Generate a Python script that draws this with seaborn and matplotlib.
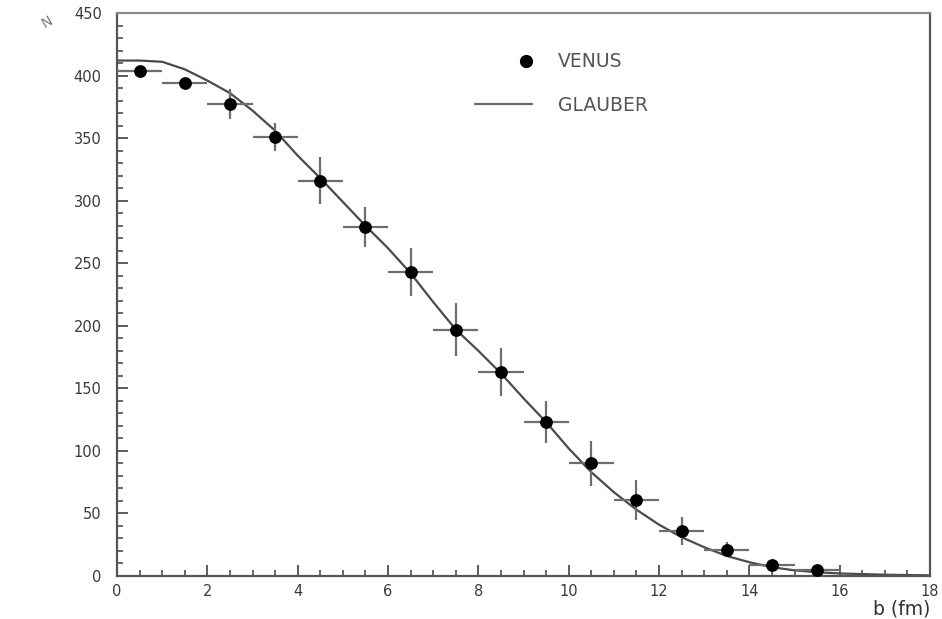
import numpy as np
import pandas as pd
import matplotlib
matplotlib.use("Agg")
import matplotlib.pyplot as plt
from matplotlib.ticker import MultipleLocator
from matplotlib.lines import Line2D
from matplotlib.legend_handler import HandlerBase
import seaborn as sns

# VENUS points: impact parameter b (fm), mean value and errors
venus_b = [0.5, 1.5, 2.5, 3.5, 4.5, 5.5, 6.5, 7.5, 8.5, 9.5, 10.5, 11.5, 12.5, 13.5, 14.5, 15.5]
venus_n = [404, 394, 377, 351, 316, 279, 243, 197, 163, 123, 90, 61, 36, 21, 9, 5]
venus_dn = [3, 4, 12, 11, 19, 16, 19, 21, 19, 17, 18, 16, 11, 6, 3, 2]
venus_db = [0.5] * 16

# Glauber calculation curve
glauber_b = [0, 0.5, 1, 1.5, 2, 2.5, 3, 3.5, 4, 4.5, 5, 5.5, 6, 6.5, 7, 7.5, 8,
             8.5, 9, 9.5, 10, 10.5, 11, 11.5, 12, 12.5, 13, 13.5, 14, 14.5, 15,
             15.5, 16, 17, 18]
glauber_n = [412, 412, 411, 405, 396, 386, 372, 356, 336, 318, 299, 280, 262,
             242, 219, 197, 180, 162, 142, 123, 102, 83, 67, 53, 41, 31, 23, 16,
             11, 7, 4.5, 3, 2, 1, 0.5]

x_ticks = [0, 2, 4, 6, 8, 10, 12, 14, 16, 18]
y_ticks = [0, 50, 100, 150, 200, 250, 300, 350, 400, 450]


class RightDot(HandlerBase):
    """Legend handler that puts the dot at the right end of the handle box."""
    def create_artists(self, legend, orig_handle, xdescent, ydescent,
                       width, height, fontsize, trans):
        dot = Line2D([width - xdescent - 4], [height / 2 - ydescent],
                     marker="o", ls="none", color="black", markersize=8.5,
                     transform=trans)
        return [dot]


sns.set_theme(style="white")
plt.rcParams["font.family"] = ["DejaVu Sans"]

fig = plt.figure(figsize=(9.42, 6.19), dpi=100)
ax = fig.add_axes([0.1242, 0.0695, 0.8631, 0.9095])

glauber = pd.DataFrame({"b": glauber_b, "n": glauber_n})
venus = pd.DataFrame({"b": venus_b, "n": venus_n})

sns.lineplot(data=glauber, x="b", y="n", ax=ax, color="#4a4a4a", lw=1.6,
             zorder=2)
ax.errorbar(venus_b, venus_n, xerr=venus_db, yerr=venus_dn, fmt="none",
            ecolor="#6e6e6e", elinewidth=1.6, capsize=0, zorder=3)
sns.scatterplot(data=venus, x="b", y="n", ax=ax, color="black", s=85,
                edgecolor="black", linewidth=0, zorder=4)

ax.set_xlim(0, 18)
ax.set_ylim(0, 450)
ax.set_xticks(x_ticks)
ax.set_yticks(y_ticks)
ax.set_xticklabels([str(t) for t in x_ticks])
ax.set_yticklabels([str(t) for t in y_ticks])
ax.xaxis.set_minor_locator(MultipleLocator(0.5))
ax.yaxis.set_minor_locator(MultipleLocator(10))
ax.tick_params(axis="both", which="both", direction="in", color="#404040",
               bottom=True, left=True, top=False, right=False)
ax.tick_params(axis="both", which="major", length=8, width=1.2,
               labelsize=10.5, labelcolor="#3a3a3a")
ax.tick_params(axis="y", which="major", pad=11)
ax.tick_params(axis="x", which="major", pad=6)
ax.tick_params(axis="both", which="minor", length=4.5, width=1.1)
for side, sp in ax.spines.items():
    sp.set_color("#555555")
    sp.set_linewidth(1.6)
ax.spines["top"].set_color("#8a8a8a")

ax.set_xlabel("")
ax.set_ylabel("")
ax.text(1.0, -0.058, "b (fm)", transform=ax.transAxes, ha="right",
        va="center", fontsize=13.5, color="#333333")
fig.text(0.05, 0.965, "N", rotation=30, fontsize=10, color="#777777",
         ha="center", va="center")

handles = [
    Line2D([], [], marker="o", ls="none", color="black"),
    Line2D([], [], color="#6a6a6a", lw=1.6),
]
ax.legend(handles, ["VENUS", "GLAUBER"], loc="upper left",
          bbox_to_anchor=(0.42, 0.96), frameon=False, fontsize=13.5,
          handlelength=3.0, handletextpad=1.4, labelspacing=1.3,
          labelcolor="#555555",
          handler_map={handles[0]: RightDot()})

fig.savefig("out.png", dpi=100, facecolor="white")
